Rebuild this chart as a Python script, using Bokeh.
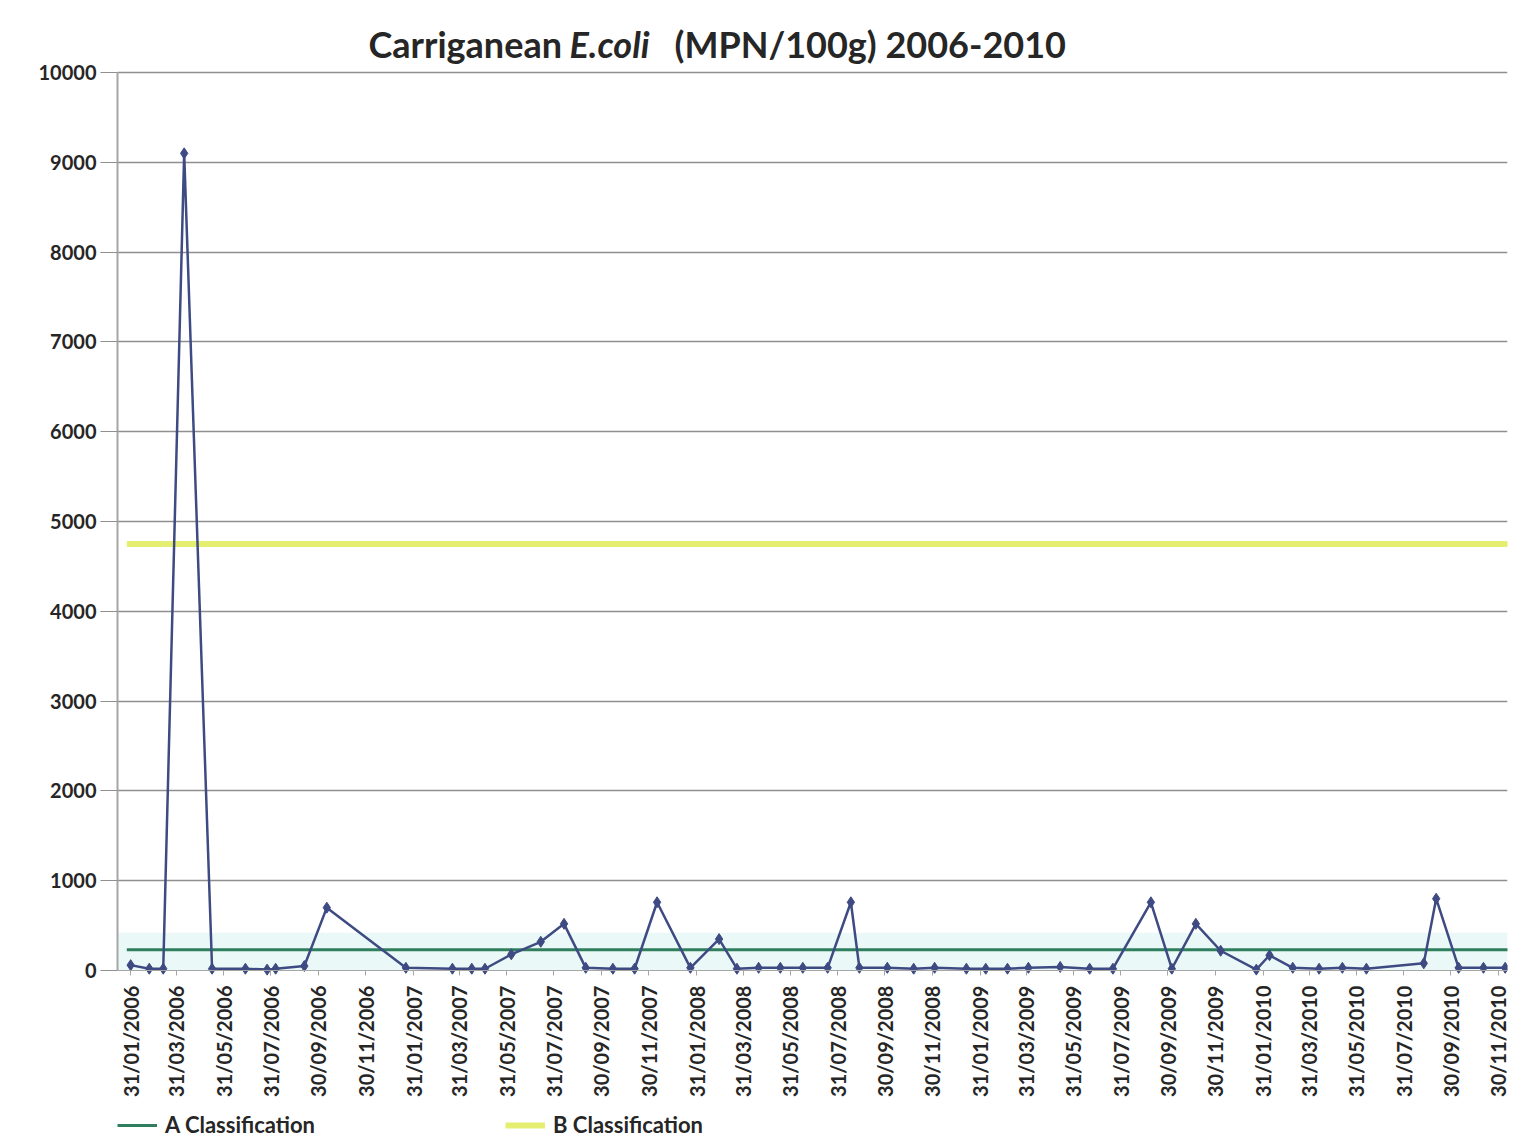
import math
from datetime import datetime

import pandas as pd
from bokeh.embed import file_html
from bokeh.models import (BoxAnnotation, ColumnDataSource, DatetimeTickFormatter,
                          FixedTicker, Label, Legend, LegendItem, Range1d)
from bokeh.plotting import figure
from bokeh.resources import INLINE

# Carriganean shellfish monitoring: E. coli results (MPN/100g), 2006-2010
sample_dates = [
    "31/01/2006", "24/02/2006", "14/03/2006", "10/04/2006", "16/05/2006",
    "28/06/2006", "26/07/2006", "06/08/2006", "12/09/2006", "11/10/2006",
    "21/01/2007", "22/03/2007", "16/04/2007", "03/05/2007", "06/06/2007",
    "14/07/2007", "13/08/2007", "10/09/2007", "15/10/2007", "12/11/2007",
    "11/12/2007", "23/01/2008", "29/02/2008", "23/03/2008", "20/04/2008",
    "18/05/2008", "16/06/2008", "18/07/2008", "17/08/2008", "28/08/2008",
    "03/10/2008", "06/11/2008", "03/12/2008", "13/01/2009", "07/02/2009",
    "07/03/2009", "03/04/2009", "14/05/2009", "21/06/2009", "21/07/2009",
    "08/09/2009", "05/10/2009", "05/11/2009", "07/12/2009", "22/01/2010",
    "08/02/2010", "10/03/2010", "13/04/2010", "13/05/2010", "13/06/2010",
    "26/08/2010", "11/09/2010", "10/10/2010", "11/11/2010", "09/12/2010",
]
ecoli_mpn = [
    60, 20, 20, 9100, 20,
    20, 10, 20, 50, 700,
    30, 20, 20, 20, 180,
    320, 520, 30, 20, 20,
    760, 30, 350, 20, 30,
    30, 30, 30, 760, 30,
    30, 20, 30, 20, 20,
    20, 30, 40, 20, 20,
    760, 20, 520, 220, 10,
    170, 30, 20, 30, 20,
    80, 800, 30, 30, 30,
]

# Classification thresholds (MPN/100g)
class_a_limit = 230
class_b_limit = 4750

# Axis labels
tick_dates = [
    f"{d}/{m}/{y}"
    for y in range(2006, 2011)
    for m, d in (("01", "31"), ("03", "31"), ("05", "31"),
                 ("07", "31"), ("09", "30"), ("11", "30"))
]
y_ticks = [0, 1000, 2000, 3000, 4000, 5000, 6000, 7000, 8000, 9000, 10000]

FONT = "Lato"
TEXT = "#262626"
GRID = "#8f8f8f"

dates = pd.to_datetime(sample_dates, format="%d/%m/%Y")
tick_ms = [int(t.value // 1_000_000) for t in pd.to_datetime(tick_dates, format="%d/%m/%Y")]

src = ColumnDataSource(dict(date=dates, mpn=ecoli_mpn))

# The frame spans the full height of the page: the title sits above the
# 0-10000 scale and the date axis is pinned at y = 0 with the legend below it.
p = figure(
    x_axis_type="datetime",
    frame_width=1390, frame_height=1141,
    min_border_left=117, min_border_right=15,
    min_border_top=0, min_border_bottom=0,
    x_range=Range1d(datetime(2006, 1, 14), datetime(2010, 12, 12)),
    y_range=Range1d(-1904, 10802),
    output_backend="svg", toolbar_location=None,
    background_fill_color="white", border_fill_color="white",
)
p.title.text = ""
p.outline_line_color = None

# faint tint around the low band
p.add_layout(BoxAnnotation(bottom=0, top=420, fill_color="#e3f6f4",
                           fill_alpha=0.75, line_color=None, level="underlay"))

# y axis
p.yaxis.ticker = FixedTicker(ticks=y_ticks)
p.yaxis.bounds = (0, 10000)
p.yaxis.axis_line_color = "#a6a6a6"
p.yaxis.axis_line_width = 2
p.yaxis.major_tick_line_color = GRID
p.yaxis.major_tick_out = 17
p.yaxis.major_tick_in = 0
p.yaxis.minor_tick_line_color = None
p.yaxis.major_label_standoff = 4
p.yaxis.major_label_text_font = FONT
p.yaxis.major_label_text_font_size = "20px"
p.yaxis.major_label_text_font_style = "bold"
p.yaxis.major_label_text_color = TEXT

# x axis, pinned to the zero line
p.xaxis.fixed_location = 0
p.xaxis.ticker = FixedTicker(ticks=tick_ms)
fmt = "%d/%m/%Y"
p.xaxis.formatter = DatetimeTickFormatter(
    microseconds=fmt, milliseconds=fmt, seconds=fmt, minsec=fmt, minutes=fmt,
    hourmin=fmt, hours=fmt, days=fmt, months=fmt, years=fmt)
p.xaxis.major_label_orientation = math.pi / 2
p.xaxis.axis_line_color = "#a6a6a6"
p.xaxis.major_tick_line_color = "#a6a6a6"
p.xaxis.major_tick_out = 5
p.xaxis.major_tick_in = 0
p.xaxis.minor_tick_line_color = None
p.xaxis.major_label_standoff = 10
p.xaxis.major_label_text_font = FONT
p.xaxis.major_label_text_font_size = "20px"
p.xaxis.major_label_text_font_style = "bold"
p.xaxis.major_label_text_color = TEXT

p.xgrid.grid_line_color = None
p.ygrid.ticker = FixedTicker(ticks=y_ticks[1:])
p.ygrid.bounds = (0, 10000)
p.ygrid.grid_line_color = GRID
p.ygrid.grid_line_width = 1.5

# classification limits
limit_x = [dates.min() - pd.Timedelta(days=5), dates.max() + pd.Timedelta(days=10)]
a_line = p.line(x=limit_x, y=[class_a_limit] * 2, line_color="#2f7f5e", line_width=3)
b_line = p.line(x=limit_x, y=[class_b_limit] * 2, line_color="#e4ef72", line_width=6)

# results series
p.line("date", "mpn", source=src, line_color="#3e4a82", line_width=2.5)
p.scatter("date", "mpn", source=src, marker="diamond", size=11,
          fill_color="#3e4a82", line_color="#3e4a82")

# legend under the date labels
legend = Legend(
    items=[LegendItem(label="A Classification", renderers=[a_line]),
           LegendItem(label="B Classification", renderers=[b_line])],
    orientation="horizontal", location=(0, 3),
    glyph_width=40, glyph_height=22, label_standoff=8, spacing=190,
    padding=0, margin=0, border_line_color=None, background_fill_alpha=0,
    label_text_font=FONT, label_text_font_size="22px",
    label_text_font_style="bold", label_text_color=TEXT)
p.add_layout(legend)

# title with italic organism name
title_y = 1098
for txt, xs, style in (("Carriganean", 251, "bold"),
                       ("E.coli", 452, "bold italic"),
                       ("(MPN/100g) 2006-2010", 557, "bold")):
    p.add_layout(Label(x=xs, y=title_y, x_units="screen", y_units="screen",
                       text=txt, text_font=FONT, text_font_size="36px",
                       text_font_style=style, text_color=TEXT,
                       text_baseline="alphabetic", text_align="left"))

open("out.html", "w").write(file_html(p, INLINE))
